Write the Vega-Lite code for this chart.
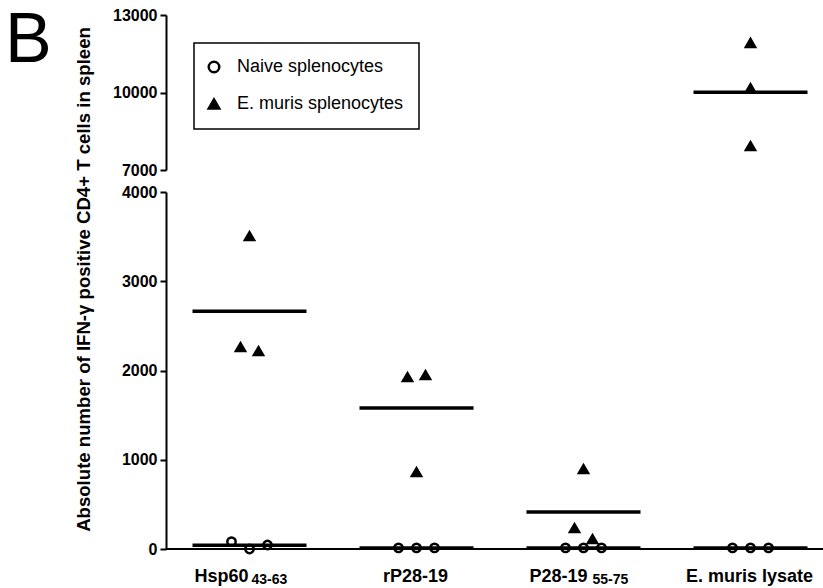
{
  "$schema": "https://vega.github.io/schema/vega-lite/v6.json",
  "autosize": {"type": "pad"},
  "padding": {"left": 5, "top": 6, "right": 0, "bottom": 2},
  "background": "white",
  "title": {"text": "B", "fontSize": 70, "font": "Liberation Sans", "fontWeight": "normal", "color": "black", "anchor": "start", "frame": "group", "orient": "none", "offset": 0, "dx": -161, "dy": 47, "baseline": "alphabetic"},
  "bounds": "flush",
  "spacing": 22,
  "resolve": {"legend": {"shape": "independent", "fill": "independent", "stroke": "independent"}},
  "data": {
    "values": [
      {"group": "Hsp60 43-63", "cond": "Naive splenocytes", "rep": 1, "value": 82},
      {"group": "Hsp60 43-63", "cond": "Naive splenocytes", "rep": 2, "value": 0},
      {"group": "Hsp60 43-63", "cond": "Naive splenocytes", "rep": 3, "value": 45},
      {"group": "Hsp60 43-63", "cond": "E. muris splenocytes", "rep": 1, "value": 2263},
      {"group": "Hsp60 43-63", "cond": "E. muris splenocytes", "rep": 2, "value": 3507},
      {"group": "Hsp60 43-63", "cond": "E. muris splenocytes", "rep": 3, "value": 2218},
      {"group": "rP28-19", "cond": "Naive splenocytes", "rep": 1, "value": 12},
      {"group": "rP28-19", "cond": "Naive splenocytes", "rep": 2, "value": 12},
      {"group": "rP28-19", "cond": "Naive splenocytes", "rep": 3, "value": 12},
      {"group": "rP28-19", "cond": "E. muris splenocytes", "rep": 1, "value": 1927},
      {"group": "rP28-19", "cond": "E. muris splenocytes", "rep": 2, "value": 863},
      {"group": "rP28-19", "cond": "E. muris splenocytes", "rep": 3, "value": 1950},
      {"group": "P28-19 55-75", "cond": "Naive splenocytes", "rep": 1, "value": 12},
      {"group": "P28-19 55-75", "cond": "Naive splenocytes", "rep": 2, "value": 12},
      {"group": "P28-19 55-75", "cond": "Naive splenocytes", "rep": 3, "value": 12},
      {"group": "P28-19 55-75", "cond": "E. muris splenocytes", "rep": 1, "value": 235},
      {"group": "P28-19 55-75", "cond": "E. muris splenocytes", "rep": 2, "value": 896},
      {"group": "P28-19 55-75", "cond": "E. muris splenocytes", "rep": 3, "value": 112},
      {"group": "E. muris lysate", "cond": "Naive splenocytes", "rep": 1, "value": 12},
      {"group": "E. muris lysate", "cond": "Naive splenocytes", "rep": 2, "value": 12},
      {"group": "E. muris lysate", "cond": "Naive splenocytes", "rep": 3, "value": 12},
      {"group": "E. muris lysate", "cond": "E. muris splenocytes", "rep": 1, "value": 7930},
      {"group": "E. muris lysate", "cond": "E. muris splenocytes", "rep": 2, "value": 11920},
      {"group": "E. muris lysate", "cond": "E. muris splenocytes", "rep": 3, "value": 10170}
    ]
  },
  "vconcat": [
    {
      "width": 657,
      "height": 155,
      "layer": [
        {
          "transform": [{"filter": "datum.value >= 7000"}],
          "mark": {"type": "point", "strokeWidth": 2, "opacity": 1},
          "encoding": {
            "x": {"field": "group", "type": "nominal", "scale": {"domain": ["Hsp60 43-63", "rP28-19", "P28-19 55-75", "E. muris lysate"], "range": [0, 668], "paddingInner": 0, "paddingOuter": 0}, "axis": null},
            "y": {"field": "value", "type": "quantitative", "scale": {"domain": [7000, 13000], "nice": false, "zero": false}, "axis": {"values": [7000, 10000, 13000], "format": "d", "title": null}},
            "shape": {"field": "cond", "type": "nominal", "scale": {"domain": ["Naive splenocytes", "E. muris splenocytes"], "range": ["circle", "triangle-up"]}, "legend": {"title": null, "orient": "none", "legendX": 28, "legendY": 28}},
            "fill": {"field": "cond", "type": "nominal", "scale": {"domain": ["Naive splenocytes", "E. muris splenocytes"], "range": ["transparent", "black"]}, "legend": {"title": null, "orient": "none", "legendX": 28, "legendY": 28}},
            "stroke": {"field": "cond", "type": "nominal", "scale": {"domain": ["Naive splenocytes", "E. muris splenocytes"], "range": ["black", "black"]}, "legend": {"title": null, "orient": "none", "legendX": 28, "legendY": 28}},
            "size": {"field": "cond", "type": "nominal", "scale": {"domain": ["Naive splenocytes", "E. muris splenocytes"], "range": [70, 100]}, "legend": null}
          }
        },
        {
          "transform": [
            {"aggregate": [{"op": "mean", "field": "value", "as": "value"}], "groupby": ["group", "cond"]},
            {"filter": "datum.value >= 7000"}
          ],
          "mark": {"type": "tick", "color": "black", "opacity": 1, "size": 114, "thickness": 3.5},
          "encoding": {
            "x": {"field": "group", "type": "nominal", "axis": null},
            "y": {"field": "value", "type": "quantitative"}
          }
        }
      ]
    },
    {
      "width": 657,
      "height": 357,
      "resolve": {"axis": {"x": "independent"}, "scale": {"xOffset": "independent"}},
      "layer": [
        {
          "mark": {"type": "rule", "color": "black", "strokeWidth": 2},
          "encoding": {"y": {"datum": 0, "type": "quantitative"}}
        },
        {
          "transform": [{"filter": "datum.cond == 'Naive splenocytes' && datum.value <= 4000"}],
          "mark": {"type": "point", "strokeWidth": 2.5, "opacity": 1},
          "encoding": {
            "x": {"field": "group", "type": "nominal", "scale": {"domain": ["Hsp60 43-63", "rP28-19", "P28-19 55-75", "E. muris lysate"], "range": [0, 668], "paddingInner": 0, "paddingOuter": 0},
              "axis": {"orient": "bottom", "title": null, "domain": false, "ticks": false, "tickSize": 0, "labelAngle": 0, "labelFontSize": 18, "labelPadding": 18, "labelBaseline": "top", "labelOverlap": false, "labelLimit": 300,
                "labelExpr": "datum.value == 'Hsp60 43-63' ? 'Hsp60' : datum.value == 'P28-19 55-75' ? 'P28-19' : datum.value",
                "labelAlign": {"condition": {"test": "datum.value == 'Hsp60 43-63' || datum.value == 'P28-19 55-75'", "value": "right"}, "value": "center"},
                "labelOffset": {"condition": {"test": "datum.value == 'P28-19 55-75'", "value": 4}, "value": -1}}},
            "xOffset": {"field": "rep", "type": "ordinal", "scale": {"type": "point", "padding": 0, "range": [65.5, 101.5]}},
            "y": {"field": "value", "type": "quantitative", "scale": {"domain": [0, 4000], "nice": false}, "axis": {"values": [0, 1000, 2000, 3000, 4000], "format": "d", "title": "Absolute number of IFN-γ positive CD4+ T cells in spleen", "titleFontSize": 18.6, "titleX": -77, "titleY": 87, "titleBaseline": "alphabetic", "titleAlign": "center", "titleAngle": 270}},
            "shape": {"field": "cond", "type": "nominal", "scale": {"domain": ["Naive splenocytes", "E. muris splenocytes"], "range": ["circle", "triangle-up"]}, "legend": null},
            "fill": {"field": "cond", "type": "nominal", "scale": {"domain": ["Naive splenocytes", "E. muris splenocytes"], "range": ["transparent", "black"]}, "legend": null},
            "stroke": {"field": "cond", "type": "nominal", "scale": {"domain": ["Naive splenocytes", "E. muris splenocytes"], "range": ["black", "black"]}, "legend": null},
            "size": {"field": "cond", "type": "nominal", "scale": {"domain": ["Naive splenocytes", "E. muris splenocytes"], "range": [70, 100]}, "legend": null}
          }
        },
        {
          "transform": [{"filter": "datum.cond == 'E. muris splenocytes' && datum.value <= 4000"}],
          "mark": {"type": "point", "strokeWidth": 2, "opacity": 1},
          "encoding": {
            "x": {"field": "group", "type": "nominal", "axis": null},
            "xOffset": {"field": "rep", "type": "ordinal", "scale": {"type": "point", "padding": 0, "range": [74.5, 92.5]}},
            "y": {"field": "value", "type": "quantitative"},
            "shape": {"field": "cond", "type": "nominal", "scale": {"domain": ["Naive splenocytes", "E. muris splenocytes"], "range": ["circle", "triangle-up"]}, "legend": null},
            "fill": {"field": "cond", "type": "nominal", "scale": {"domain": ["Naive splenocytes", "E. muris splenocytes"], "range": ["transparent", "black"]}, "legend": null},
            "stroke": {"field": "cond", "type": "nominal", "scale": {"domain": ["Naive splenocytes", "E. muris splenocytes"], "range": ["black", "black"]}, "legend": null},
            "size": {"field": "cond", "type": "nominal", "scale": {"domain": ["Naive splenocytes", "E. muris splenocytes"], "range": [70, 100]}, "legend": null}
          }
        },
        {
          "transform": [
            {"aggregate": [{"op": "mean", "field": "value", "as": "value"}], "groupby": ["group", "cond"]},
            {"filter": "datum.value <= 4000"}
          ],
          "mark": {"type": "tick", "color": "black", "opacity": 1, "size": 114, "thickness": 3.5},
          "encoding": {
            "x": {"field": "group", "type": "nominal",
              "axis": {"orient": "bottom", "title": null, "domain": false, "ticks": false, "tickSize": 0, "labelAngle": 0, "labelFontSize": 14, "labelPadding": 23, "labelBaseline": "top", "labelOverlap": false, "labelAlign": "left",
                "labelExpr": "datum.value == 'Hsp60 43-63' ? '43-63' : datum.value == 'P28-19 55-75' ? '55-75' : ''",
                "labelOffset": {"condition": {"test": "datum.value == 'P28-19 55-75'", "value": 9}, "value": 2}}},
            "y": {"field": "value", "type": "quantitative"}
          }
        }
      ]
    }
  ],
  "config": {
    "view": {"stroke": null},
    "font": "Liberation Sans",
    "axis": {"domainColor": "black", "tickColor": "black", "labelColor": "black", "titleColor": "black", "domainWidth": 2, "tickWidth": 2, "tickSize": 6, "labelPadding": 3, "grid": false, "labelFont": "Liberation Sans", "titleFont": "Liberation Sans", "labelFontWeight": "bold", "titleFontWeight": "bold", "labelFontSize": 16},
    "legend": {"labelFont": "Liberation Sans", "labelFontSize": 18, "labelColor": "black", "strokeColor": "black", "strokeWidth": 1.5, "padding": 15, "rowPadding": 16, "labelOffset": 14, "symbolOffset": -4, "symbolSize": 110, "symbolStrokeWidth": 2.5, "symbolStrokeColor": "black", "labelLimit": 300}
  }
}
